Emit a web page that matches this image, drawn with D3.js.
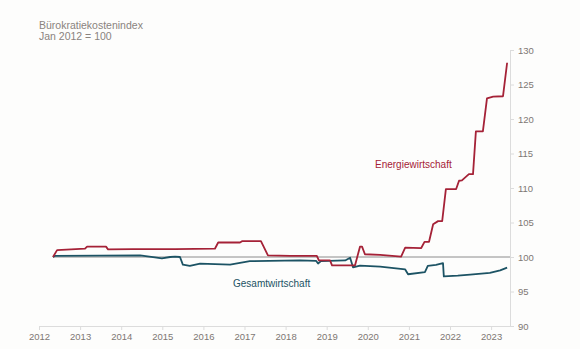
<!DOCTYPE html>
<html>
<head>
<meta charset="utf-8">
<script src="https://cdn.jsdelivr.net/npm/d3@7"></script>
<style>
  body { margin: 0; background: #fdfdfc; }
  svg { display: block; font-family: "Liberation Sans", Arial, sans-serif; }
</style>
</head>
<body>
<div id="chart"></div>
<script>
// decimal year positions
const energyYears = [2012.34, 2012.44, 2013.12, 2013.17, 2013.63, 2013.68, 2014.29, 2015.31, 2016.28, 2016.36,
  2016.89, 2016.94, 2017.40, 2017.57, 2018.11, 2018.76, 2018.81, 2019.08, 2019.13, 2019.69,
  2019.81, 2019.86, 2019.93, 2020.30, 2020.81, 2020.91, 2021.30, 2021.38, 2021.49, 2021.59,
  2021.71, 2021.81, 2021.90, 2022.15, 2022.22, 2022.29, 2022.46, 2022.56, 2022.63, 2022.80,
  2022.90, 2023.05, 2023.29, 2023.39];
const energyValues = [100, 101.0, 101.2, 101.5, 101.5, 101.1, 101.15, 101.15, 101.2, 102.1,
  102.1, 102.3, 102.3, 100.25, 100.15, 100.15, 99.5, 99.5, 98.8, 98.8,
  101.5, 101.5, 100.4, 100.3, 100.05, 101.35, 101.3, 102.2, 102.2, 104.75,
  105.2, 105.2, 109.85, 109.85, 111.05, 111.1, 112.0, 112.0, 118.2, 118.2,
  123.0, 123.25, 123.3, 128.15];

const totalYears = [2012.34, 2012.39, 2013.48, 2014.46, 2014.82, 2014.99, 2015.19, 2015.31, 2015.43, 2015.50,
  2015.67, 2015.92, 2016.65, 2017.13, 2018.35, 2018.74, 2018.79, 2018.86, 2019.45, 2019.57,
  2019.64, 2019.81, 2020.30, 2020.91, 2020.98, 2021.39, 2021.46, 2021.66, 2021.83, 2021.85,
  2022.19, 2022.49, 2022.97, 2023.22, 2023.39];
const totalValues = [100, 100.15, 100.2, 100.25, 99.95, 99.8, 100.0, 100.05, 100.0, 98.9,
  98.7, 99.05, 98.9, 99.4, 99.5, 99.45, 99.05, 99.4, 99.5, 99.9,
  98.5, 98.75, 98.6, 98.2, 97.5, 97.8, 98.7, 98.85, 99.1, 97.2,
  97.3, 97.45, 97.7, 98.05, 98.45];

const yearTicks = [2012, 2013, 2014, 2015, 2016, 2017, 2018, 2019, 2020, 2021, 2022, 2023];
const valueTicks = [90, 95, 100, 105, 110, 115, 120, 125, 130];

const energyColor = '#a52237';
const totalColor = '#1c5364';

const width = 580, height = 349;
const svg = d3.select('#chart').append('svg')
  .attr('width', width)
  .attr('height', height);

const x = d3.scaleLinear().domain([2012, 2023.46]).range([39, 510]);
const y = d3.scaleLinear().domain([90, 130]).range([326, 50]);

// title
svg.append('text').attr('x', 39).attr('y', 29)
  .attr('fill', '#8a837e').style('font-size', '10.5px')
  .text('Bürokratiekostenindex');
svg.append('text').attr('x', 39).attr('y', 40)
  .attr('fill', '#8a837e').style('font-size', '10.5px')
  .text('Jan 2012 = 100');

// x axis
const xAxis = svg.append('g')
  .attr('transform', `translate(0,${y(90)})`)
  .call(d3.axisBottom(x).tickValues(yearTicks).tickFormat(d3.format('d')).tickSize(4).tickPadding(3).tickSizeOuter(0));
xAxis.select('.domain').attr('stroke', '#dcdcdc');
xAxis.selectAll('.tick line').attr('stroke', '#dcdcdc');
xAxis.selectAll('text').attr('fill', '#7d7773').style('font-size', '9.5px')
  .style('font-family', '"Liberation Sans", Arial, sans-serif');

// y axis on the right
const yAxis = svg.append('g')
  .attr('transform', `translate(${x.range()[1]},0)`)
  .call(d3.axisRight(y).tickValues(valueTicks).tickSize(4).tickPadding(4).tickSizeOuter(0));
yAxis.select('.domain').attr('stroke', '#dcdcdc');
yAxis.selectAll('.tick line').attr('stroke', '#dcdcdc');
yAxis.selectAll('text').attr('fill', '#7d7773').style('font-size', '9.5px')
  .style('font-family', '"Liberation Sans", Arial, sans-serif');

// 100 reference line
svg.append('line')
  .attr('x1', x(energyYears[0])).attr('x2', x.range()[1])
  .attr('y1', y(100)).attr('y2', y(100))
  .attr('stroke', '#8c8c8c').attr('stroke-width', 1);

const line = d3.line().x(d => x(d[0])).y(d => y(d[1]));

svg.append('path')
  .datum(d3.zip(totalYears, totalValues))
  .attr('fill', 'none').attr('stroke', totalColor).attr('stroke-width', 1.8)
  .attr('stroke-linejoin', 'round')
  .attr('d', line);

svg.append('path')
  .datum(d3.zip(energyYears, energyValues))
  .attr('fill', 'none').attr('stroke', energyColor).attr('stroke-width', 1.8)
  .attr('stroke-linejoin', 'round')
  .attr('d', line);

// series labels
svg.append('text').attr('x', 375).attr('y', 168)
  .attr('fill', energyColor).style('font-size', '10px')
  .text('Energiewirtschaft');
svg.append('text').attr('x', 233).attr('y', 287)
  .attr('fill', totalColor).style('font-size', '10px')
  .text('Gesamtwirtschaft');
</script>
</body>
</html>
